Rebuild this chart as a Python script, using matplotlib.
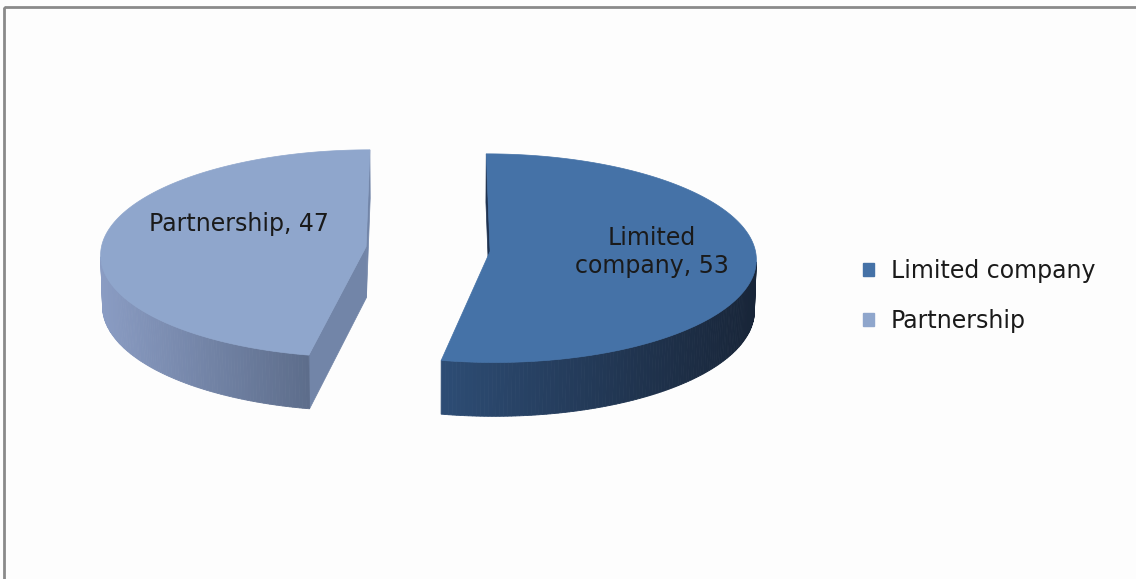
import numpy as np
import matplotlib
matplotlib.use("Agg")
import matplotlib.pyplot as plt
from matplotlib.patches import Polygon, Rectangle, Patch
from matplotlib.colors import to_rgb

# ---- data -------------------------------------------------------------
categories = ["Limited company", "Partnership"]
values = [53, 47]
slice_text = ["Limited\ncompany", "Partnership"]

# ---- styling ----------------------------------------------------------
top_colors = ["#4572A7", "#8FA6CC"]
wall_light = ["#2D4C74", "#8A9CC3"]
wall_dark = ["#182538", "#5D6D8B"]
cut_colors = ["#1E3250", "#7285A8"]
text_color = "#1A1A1A"
label_xy = [(652, 252), (239, 224)]
FONT = "DejaVu Sans"
FS = 17

# ---- 3-D view settings ------------------------------------------------
ELEV = np.radians(23.0)
DIST = 14.0           # camera distance in pie radii
HEIGHT = 0.21         # slice thickness in pie radii
EXPLODE = 0.235       # radial offset of each slice
SCALE = 265.0         # pixels per pie radius
CX, CY = 428.0, 249.0

cam = np.array([0.0, -DIST * np.cos(ELEV), DIST * np.sin(ELEV)])


def project(x, y, z):
    x, y, z = np.asarray(x, float), np.asarray(y, float), np.asarray(z, float)
    depth = DIST + y * np.cos(ELEV) - z * np.sin(ELEV)
    up = y * np.sin(ELEV) + z * np.cos(ELEV)
    k = DIST / depth
    return CX + SCALE * x * k, CY - SCALE * up * k


def facing(normal, point):
    return np.dot(normal, cam - point) > 0


fig = plt.figure(figsize=(11.36, 5.79), dpi=100, facecolor="#FDFDFD")
ax = fig.add_axes([0, 0, 1, 1])
ax.set_xlim(0, 1136)
ax.set_ylim(579, 0)
ax.axis("off")
ax.set_facecolor("#FDFDFD")

# chart frame (top and left edges fall inside the canvas)
ax.add_patch(Rectangle((4, 7), 1300, 700, fill=False, edgecolor="#8A8A8A",
                       linewidth=2.0, zorder=1))

total = float(sum(values))
start = 90.0
for i, v in enumerate(values):
    sweep = 360.0 * v / total
    a0, a1 = start, start - sweep          # clockwise from 12 o'clock
    start = a1
    mid = np.radians((a0 + a1) / 2.0)
    ox, oy = EXPLODE * np.cos(mid), EXPLODE * np.sin(mid)
    t = np.radians(np.linspace(a0, a1, 240))
    ex, ey = ox + np.cos(t), oy + np.sin(t)

    # radial cut faces
    for ang, nang in ((a0, a0 + 90.0), (a1, a1 - 90.0)):
        ra = np.radians(ang)
        rx, ry = ox + np.cos(ra), oy + np.sin(ra)
        n = np.array([np.cos(np.radians(nang)), np.sin(np.radians(nang)), 0.0])
        pmid = np.array([(ox + rx) / 2, (oy + ry) / 2, -HEIGHT / 2])
        if facing(n, pmid):
            X = [ox, rx, rx, ox]
            Y = [oy, ry, ry, oy]
            Z = [0, 0, -HEIGHT, -HEIGHT]
            px, py = project(X, Y, Z)
            ax.add_patch(Polygon(np.column_stack([px, py]), closed=True,
                                 facecolor=cut_colors[i], edgecolor=cut_colors[i],
                                 linewidth=0.5, zorder=2))

    # outer wall, shaded from left (light) to right (dark)
    quads = []
    for j in range(len(t) - 1):
        tm = (t[j] + t[j + 1]) / 2
        n = np.array([np.cos(tm), np.sin(tm), 0.0])
        p = np.array([ox + np.cos(tm), oy + np.sin(tm), -HEIGHT / 2])
        if facing(n, p):
            X = [ex[j], ex[j + 1], ex[j + 1], ex[j]]
            Y = [ey[j], ey[j + 1], ey[j + 1], ey[j]]
            Z = [0, 0, -HEIGHT, -HEIGHT]
            px, py = project(X, Y, Z)
            quads.append(np.column_stack([px, py]))
    if quads:
        xs = np.array([q[:, 0].mean() for q in quads])
        lo, hi = xs.min(), xs.max()
        cl, cd = np.array(to_rgb(wall_light[i])), np.array(to_rgb(wall_dark[i]))
        for q, xm in zip(quads, xs):
            f = (xm - lo) / (hi - lo) if hi > lo else 0.0
            c = cl * (1 - f) + cd * f
            ax.add_patch(Polygon(q, closed=True, facecolor=c, edgecolor=c,
                                 linewidth=0.6, zorder=3))

    # top face
    X = np.concatenate([[ox], ex])
    Y = np.concatenate([[oy], ey])
    px, py = project(X, Y, np.zeros_like(X))
    ax.add_patch(Polygon(np.column_stack([px, py]), closed=True,
                         facecolor=top_colors[i], edgecolor=top_colors[i],
                         linewidth=0.5, zorder=4))

    ax.text(label_xy[i][0], label_xy[i][1], f"{slice_text[i]}, {v}",
            ha="center", va="center", fontsize=FS, family=FONT,
            color=text_color, linespacing=1.2, zorder=5)

handles = [Patch(facecolor=c, edgecolor=c) for c in top_colors]
ax.legend(handles, categories, loc="center left", bbox_to_anchor=(851, 296),
          bbox_transform=ax.transData, frameon=False, borderpad=0.0,
          handlelength=0.48, handleheight=0.48, handletextpad=0.7,
          labelspacing=1.1, prop={"family": FONT, "size": FS},
          labelcolor=text_color)

fig.savefig("out.png", dpi=100, facecolor=fig.get_facecolor())
